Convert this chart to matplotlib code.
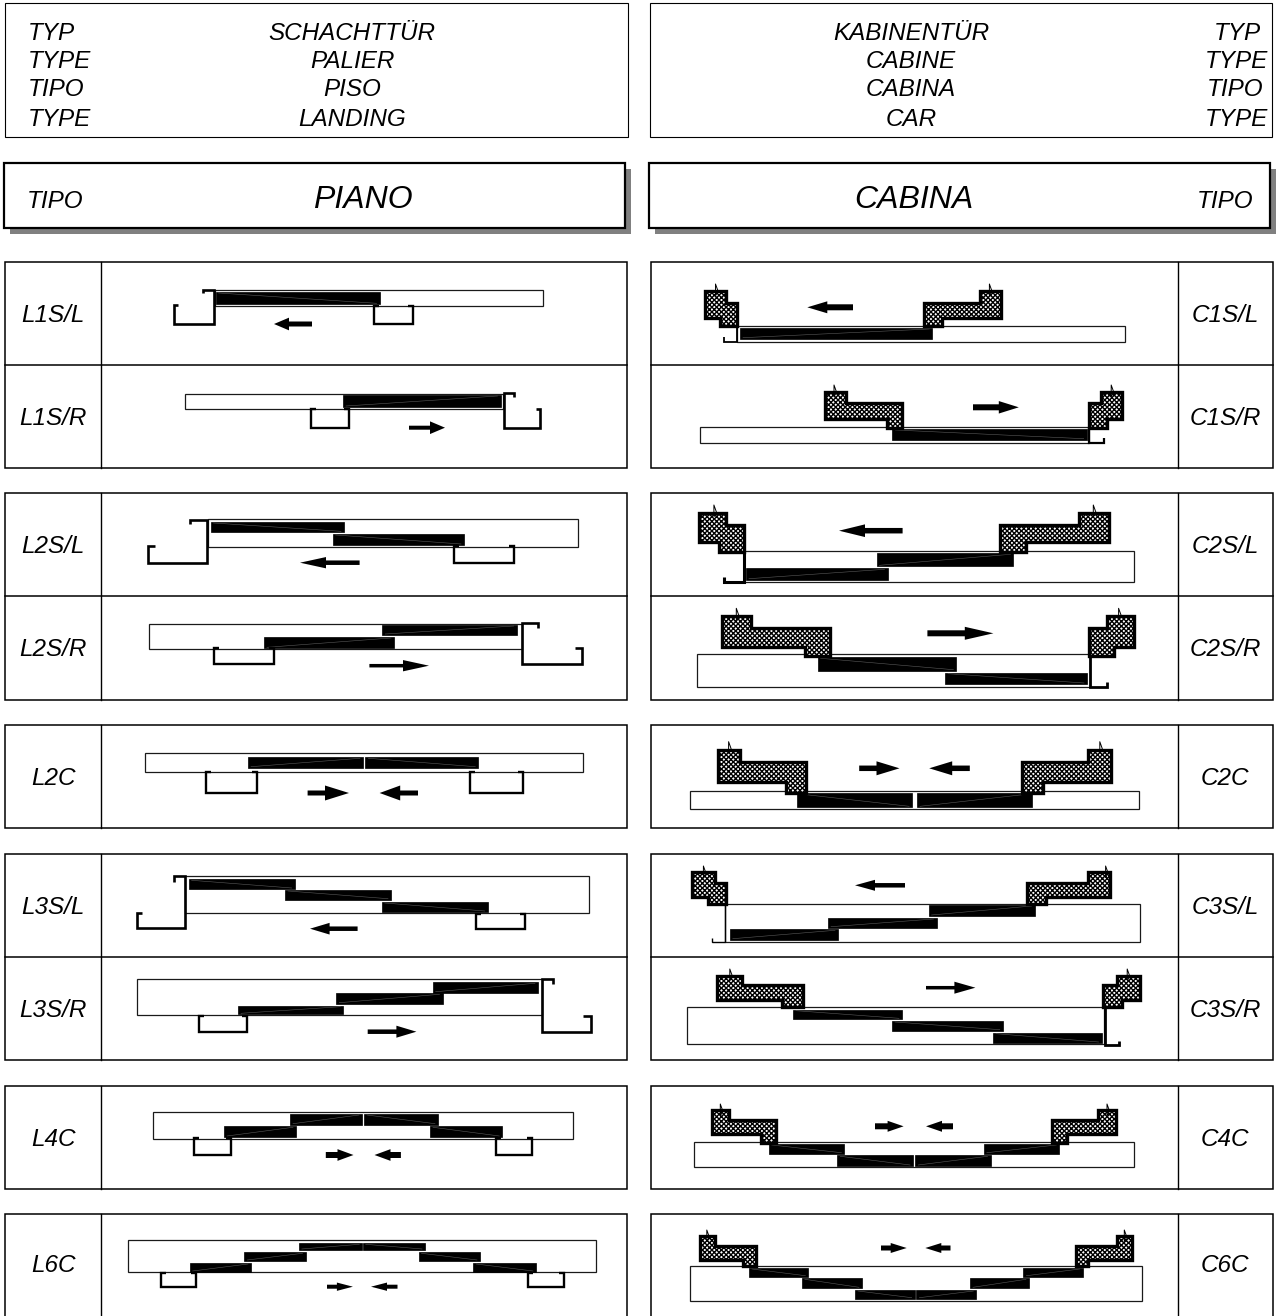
import matplotlib
matplotlib.use("Agg")
import matplotlib.pyplot as plt
from matplotlib.patches import Rectangle, Polygon

plt.rcParams['font.family'] = ['Liberation Sans', 'DejaVu Sans']
plt.rcParams['hatch.linewidth'] = 1.0

# ---------- header text ----------
HEAD_LEFT_TYPES = ["TYP", "TYPE", "TIPO", "TYPE"]
HEAD_LEFT_NAMES = ["SCHACHTTÜR", "PALIER", "PISO", "LANDING"]
HEAD_RIGHT_NAMES = ["KABINENTÜR", "CABINE", "CABINA", "CAR"]
HEAD_RIGHT_TYPES = ["TYP", "TYPE", "TIPO", "TYPE"]
HEAD_RIGHT_EDGE = [1261, 1268, 1263, 1268]
HEAD_Y = [34, 62, 90, 119]

# ---------- table rows ----------
ROW_GROUPS = [(262, 365, 468), (493, 596, 700), (725, 828), (854, 957, 1060), (1086, 1189), (1214, 1318)]
L_LABELS = ["L1S/L", "L1S/R", "L2S/L", "L2S/R", "L2C", "L3S/L", "L3S/R", "L4C", "L6C"]
C_LABELS = ["C1S/L", "C1S/R", "C2S/L", "C2S/R", "C2C", "C3S/L", "C3S/R", "C4C", "C6C"]

# ---------- landing side: door outlines (x0, x1, y0, y1) ----------
L_OUTLINES = [
    (215, 543, 289.5, 306), (184.5, 503, 394.3, 409), (208, 578, 519.3, 547.3),
    (149.4, 522, 624.3, 649), (145, 583.4, 753.3, 771.7), (184.5, 589, 876, 913.3),
    (136.5, 541.5, 979, 1015.3), (153.4, 572.6, 1111.7, 1139), (128.4, 595.6, 1240.3, 1272.3),
]
# panels (x0, x1, y0, y1, slope of the thin light streak: +1 rising, -1 falling)
L_PANELS = [
    (215.5, 379.5, 292, 304.3, -1), (343, 500.5, 395, 407, 1),
    (210.5, 344, 522, 532.3, -1), (332.6, 464, 534, 545, -1),
    (382.3, 516.8, 625, 635, 1), (264, 394, 637, 648.3, 1),
    (248, 363, 757.3, 767.7, 1), (365.4, 478.3, 757.3, 767.7, -1),
    (188.6, 294.7, 879.3, 889, -1), (285, 391, 890, 899.7, -1), (381.6, 487.8, 902, 912, -1),
    (432.7, 538, 982.3, 992.7, 1), (336.3, 442.5, 993.3, 1003.7, 1), (238, 343.4, 1005.7, 1014.3, 1),
    (290, 362, 1114, 1124.7, 1), (364, 438, 1114, 1124.7, -1),
    (224, 296, 1126.3, 1137, 1), (430, 502.3, 1126.3, 1137, -1),
    (298.8, 362.3, 1243.3, 1250, 1), (362.7, 425, 1243.3, 1250, -1),
    (244.4, 305.5, 1252.3, 1261, 1), (418.5, 480, 1252.3, 1261, -1),
    (189.6, 251, 1263, 1272, 1), (473.2, 536, 1263, 1272, -1),
]
# wall sections as polylines (x list, y list)
L_JAMB_X = [
    [178, 174, 174, 214, 214, 203, 203], [513.5, 513.5, 504, 504, 540, 540, 536],
    [155, 147.5, 147.5, 207, 207, 190, 190], [538, 538, 522, 522, 581.7, 581.7, 575],
    [142, 136.5, 136.5, 184.5, 184.5, 173.7, 173.7], [553, 553, 541.5, 541.5, 591, 591, 582.7],
]
L_JAMB_Y = [
    [305, 305, 324, 324, 289.5, 289.5, 293], [397, 393, 393, 427.7, 427.7, 408.5, 408.5],
    [546, 546, 562.5, 562.5, 519.5, 519.5, 524], [627.7, 622.7, 622.7, 664.3, 664.3, 647.7, 647.7],
    [913.3, 913.3, 928.3, 928.3, 876, 876, 881.7], [984.3, 979.3, 979.3, 1031.7, 1031.7, 1015.7, 1015.7],
]
# plain channels (x0, x1, y0, y1)
L_CHANNELS = [
    (374, 412.5, 306, 324), (310.5, 349, 408.5, 427.7), (454, 514, 546, 562.5),
    (214, 274.4, 648, 664.3), (205.5, 257, 772, 793.3), (470, 523, 772, 793.3),
    (476, 525, 914, 928.7), (198.7, 246.7, 1016, 1031.7), (194, 230.8, 1138, 1155.3),
    (495.5, 532, 1138, 1155.3), (160.9, 196.3, 1273, 1287), (527.7, 563.5, 1273, 1287),
]
# arrows (tail x, tip x, y, head length, head height, shaft height)
L_ARROWS = [
    (312, 274, 324, 15, 12.7, 5), (409, 445, 427.7, 15, 12.7, 4),
    (359.6, 300, 562.7, 26, 11.3, 4.5), (369.4, 429, 665.7, 26, 11.3, 3.5),
    (307.6, 349, 793, 24, 15, 5), (418, 379.6, 793, 20.6, 15, 5),
    (357.6, 310, 928.7, 19.6, 11.7, 4.5), (367.7, 416.4, 1031.7, 20, 12, 4.5),
    (325.8, 353.5, 1155, 16, 11.7, 6), (400.9, 374.5, 1155, 16, 11.7, 6),
    (327, 352.9, 1286.7, 16, 8.3, 4), (397.5, 371, 1286.7, 16, 8.3, 4),
]

# ---------- car side ----------
C_OUTLINES = [
    (737, 1124.7, 325.7, 342), (700.4, 1089.2, 426.7, 443.3), (743.7, 1134.3, 550.7, 582),
    (696.7, 1090, 654.3, 686.7), (689.8, 1139, 790.7, 809.3), (725.4, 1140, 904.3, 942),
    (687.2, 1104, 1007.3, 1043.7), (694, 1134, 1141.7, 1167), (689.9, 1142, 1265.7, 1300.7),
]
C_PANELS = [
    (740, 932.4, 328, 338.7, 1), (892.4, 1086.7, 429, 439.7, -1),
    (746, 887.5, 568.3, 579.7, 1), (876.5, 1013.4, 553.3, 566.3, 1),
    (817.6, 956.4, 657.3, 670.7, -1), (945, 1087, 672.7, 684, -1),
    (797, 912.2, 793, 807.3, -1), (917, 1032, 793, 807.3, 1),
    (729.8, 838, 929.3, 939.7, 1), (828, 936.5, 918, 927.7, 1), (928.5, 1034.8, 905, 916, 1),
    (793, 902, 1009.7, 1019.3, -1), (892, 1002.8, 1021, 1030.7, -1), (993, 1101.6, 1032.7, 1043, -1),
    (768.7, 844.4, 1144, 1153.7, -1), (983.8, 1059.4, 1144, 1153.7, 1),
    (837.3, 913.1, 1155.3, 1166, -1), (915.2, 990.5, 1155.3, 1166, 1),
    (749, 808.4, 1268, 1276.7, -1), (1023.4, 1082.8, 1268, 1276.7, 1),
    (801.8, 862, 1278.3, 1288.3, -1), (970, 1029, 1278.3, 1288.3, 1),
    (855, 914.7, 1290, 1298.7, -1), (916.4, 976.4, 1290, 1298.7, 1),
]
# car-door header blocks: x breaks and y breaks of each stepped section
C_BLOCK_X = [
    [704.5, 725.7, 725.7, 736.5, 736.5, 719.6, 719.6, 704.5],
    [924, 979.8, 979.8, 1000.6, 1000.6, 942.4, 942.4, 924],
    [824.6, 845.6, 845.6, 902.2, 902.2, 886.5, 886.5, 824.6],
    [1089, 1101.4, 1101.4, 1122, 1122, 1107, 1107, 1089],
    [699.2, 726, 726, 743.5, 743.5, 718.8, 718.8, 699.2],
    [1000.4, 1078.6, 1078.6, 1109, 1109, 1025.5, 1025.5, 1000.4],
    [722, 751, 751, 829.6, 829.6, 804.5, 804.5, 722],
    [1089.4, 1106.8, 1106.8, 1134, 1134, 1113.7, 1113.7, 1089.4],
    [717.6, 740.2, 740.2, 806.4, 806.4, 785.5, 785.5, 717.6],
    [1022, 1088.4, 1088.4, 1111, 1111, 1042.5, 1042.5, 1022],
    [691.6, 714.6, 714.6, 725.5, 725.5, 707.8, 707.8, 691.6],
    [1026.8, 1087.8, 1087.8, 1110.2, 1110.2, 1045.6, 1045.6, 1026.8],
    [716.6, 742, 742, 802.6, 802.6, 782, 782, 716.6],
    [1103.4, 1117.2, 1117.2, 1139.8, 1139.8, 1122, 1122, 1103.4],
    [711.9, 729.4, 729.4, 775.6, 775.6, 761, 761, 711.9],
    [1051.5, 1098, 1098, 1116.2, 1116.2, 1067, 1067, 1051.5],
    [700, 714.6, 714.6, 755.6, 755.6, 743.1, 743.1, 700],
    [1076, 1117.2, 1117.2, 1131.7, 1131.7, 1088.2, 1088.2, 1076],
]
C_BLOCK_Y = [
    [291, 291, 302.7, 302.7, 326, 326, 318.3, 318.3],
    [302.7, 302.7, 291, 291, 318.3, 318.3, 326, 326],
    [392.3, 392.3, 402.7, 402.7, 428.3, 428.3, 419.3, 419.3],
    [402.7, 402.7, 392.3, 392.3, 419.3, 419.3, 428.3, 428.3],
    [513, 513, 525, 525, 552, 552, 541.7, 541.7],
    [525, 525, 513, 513, 541.7, 541.7, 552, 552],
    [616.3, 616.3, 628.3, 628.3, 656, 656, 647, 647],
    [628.3, 628.3, 616.3, 616.3, 647, 647, 656, 656],
    [750.3, 750.3, 761.7, 761.7, 792.7, 792.7, 782.3, 782.3],
    [761.7, 761.7, 750.3, 750.3, 782.3, 782.3, 792.7, 792.7],
    [871.7, 871.7, 882.7, 882.7, 904.3, 904.3, 897.3, 897.3],
    [882.7, 882.7, 871.7, 871.7, 897.3, 897.3, 904.3, 904.3],
    [976.3, 976.3, 985, 985, 1007, 1007, 1000.3, 1000.3],
    [985, 985, 976.3, 976.3, 1000.3, 1000.3, 1007, 1007],
    [1110.3, 1110.3, 1120.3, 1120.3, 1143.3, 1143.3, 1134.3, 1134.3],
    [1120.3, 1120.3, 1110.3, 1110.3, 1134.3, 1134.3, 1143.3, 1143.3],
    [1235.7, 1235.7, 1246.3, 1246.3, 1266, 1266, 1259.7, 1259.7],
    [1246.3, 1246.3, 1235.7, 1235.7, 1259.7, 1259.7, 1266, 1266],
]
# seal spikes on top of the blocks (x, top y)
C_SPIKES = [
    (715.5, 284), (989.4, 284), (834, 385), (1111.2, 385), (713.9, 505), (1093.3, 505),
    (736.3, 608.3), (1118.6, 608.3), (728.6, 741.7), (1099.8, 741.7), (703.4, 866), (1105.6, 866),
    (729.8, 969), (1127.2, 969), (720.3, 1104), (1107, 1104), (706.8, 1230), (1124.3, 1230),
]
# small angle under the car door post
C_ANGLE_X = [
    [737, 737, 724, 724], [1089.2, 1089.2, 1103.5, 1103.5], [743.7, 743.7, 723.7, 723.7],
    [1090, 1090, 1107, 1107], [725.4, 725.4, 711.9, 711.9], [1104.5, 1104.5, 1119.4, 1119.4],
]
C_ANGLE_Y = [
    [326, 342, 342, 337], [428, 443.3, 443.3, 438], [552, 582, 582, 577],
    [656, 686.7, 686.7, 682], [904, 942, 942, 938], [1007, 1045, 1045, 1041],
]
C_ANGLE_LW = [1.3, 1.6, 2.2, 2.0, 1.0, 2.0]
C_ARROWS = [
    (853, 807.3, 307.3, 20, 12, 6), (973, 1018.8, 407.3, 20, 12.5, 6),
    (902.6, 839, 530.7, 26, 12.7, 5.5), (927.4, 993.4, 633.3, 28.6, 13, 6),
    (859.2, 899.5, 768.3, 23, 14, 5.5), (969.8, 929.2, 768.3, 23, 14, 5.5),
    (905, 855, 885.3, 20, 11, 4.5), (926, 975.4, 987.7, 21, 12, 3.5),
    (875, 903.6, 1126.3, 16, 11, 6), (953, 926, 1126.3, 16, 11, 6),
    (881, 906.7, 1248, 16, 10, 5), (950.5, 925.3, 1248, 16, 10, 5),
]

DARK = "#000000"
SOFT = "#1a1a1a"

fig = plt.figure(figsize=(12.78, 13.16), dpi=100)
ax = fig.add_axes([0, 0, 1, 1])
ax.set_xlim(0, 1278)
ax.set_ylim(1316, 0)
ax.axis("off")


def box(x0, x1, y0, y1, lw=1.0, ec=DARK, fc="white", z=1):
    ax.add_patch(Rectangle((x0, y0), x1 - x0, y1 - y0, fc=fc, ec=ec, lw=lw, zorder=z))


def draw_arrows(arrows):
    for tail, tip, y, hl, hh, sh in arrows:
        d = 1 if tip > tail else -1
        neck = tip - d * hl
        ax.add_patch(Polygon([(tail, y - sh / 2), (neck, y - sh / 2), (neck, y - hh / 2), (tip, y),
                              (neck, y + hh / 2), (neck, y + sh / 2), (tail, y + sh / 2)],
                             closed=True, fc=DARK, ec="none", zorder=6))


def draw_doors(outlines, panels):
    for x0, x1, y0, y1 in outlines:
        box(x0, x1, y0, y1, lw=0.9, ec=SOFT, z=2)
    for x0, x1, y0, y1, s in panels:
        box(x0, x1, y0, y1, lw=0.5, ec=DARK, fc=DARK, z=3)
        ya, yb = (y1 - 1, y0 + 1) if s > 0 else (y0 + 1, y1 - 1)
        ax.plot([x0 + 3, x1 - 3], [ya, yb], color="#5a5a5a", lw=0.4, zorder=4)


# header boxes
box(5, 628, 3, 137, lw=0.8)
box(650, 1272, 3, 137, lw=0.8)
for y, t, n in zip(HEAD_Y, HEAD_LEFT_TYPES, HEAD_LEFT_NAMES):
    ax.text(28, y, t, fontsize=17.5, style="italic", ha="left", va="center")
    ax.text(352, y, n, fontsize=17.5, style="italic", ha="center", va="center")
for y, n, t, e in zip(HEAD_Y, HEAD_RIGHT_NAMES, HEAD_RIGHT_TYPES, HEAD_RIGHT_EDGE):
    ax.text(911, y, n, fontsize=17.5, style="italic", ha="center", va="center")
    ax.text(e, y, t, fontsize=17.5, style="italic", ha="right", va="center")

# title boxes with offset shadow
for x0, x1 in [(4, 625), (649, 1270)]:
    box(x0 + 6, x1 + 6, 169, 234, lw=0, ec="none", fc="#808080", z=1)
    box(x0, x1, 163, 228, lw=1.6, z=2)
ax.text(27, 202, "TIPO", fontsize=17.5, style="italic", ha="left", va="center", zorder=5)
ax.text(363, 200, "PIANO", fontsize=23, style="italic", ha="center", va="center", zorder=5)
ax.text(914, 200, "CABINA", fontsize=23, style="italic", ha="center", va="center", zorder=5)
ax.text(1225, 202, "TIPO", fontsize=17.5, style="italic", ha="center", va="center", zorder=5)

# table frames and labels
row_spans = []
for g in ROW_GROUPS:
    for a, b in zip(g[:-1], g[1:]):
        row_spans.append((a, b))
    for fx0, fx1, div in [(5, 627, 100.5), (651, 1273, 1178)]:
        box(fx0, fx1, g[0], g[-1], lw=1.1, z=1)
        ax.plot([div, div], [g[0], g[-1]], color=DARK, lw=1.0, zorder=2)
        for m in g[1:-1]:
            ax.plot([fx0, fx1], [m, m], color=DARK, lw=1.1, zorder=2)

for (a, b), ll, cl in zip(row_spans, L_LABELS, C_LABELS):
    yc = min((a + b) / 2, 1264) + 2
    ax.text(53, yc, ll, fontsize=17.5, style="italic", ha="center", va="center", zorder=5)
    ax.text(1225, yc, cl, fontsize=17.5, style="italic", ha="center", va="center", zorder=5)

# landing doors
draw_doors(L_OUTLINES, L_PANELS)
for xs, ys in zip(L_JAMB_X, L_JAMB_Y):
    ax.plot(xs, ys, color=DARK, lw=1.9, solid_joinstyle="miter", solid_capstyle="butt", zorder=5)
for x0, x1, y0, y1 in L_CHANNELS:
    ax.plot([x0 + 5, x0, x0, x1, x1, x1 - 5], [y0, y0, y1, y1, y0, y0], color=DARK, lw=1.7,
            solid_joinstyle="miter", solid_capstyle="butt", zorder=5)
draw_arrows(L_ARROWS)

# car doors
draw_doors(C_OUTLINES, C_PANELS)
for xs, ys in zip(C_BLOCK_X, C_BLOCK_Y):
    ax.add_patch(Polygon(list(zip(xs, ys)), closed=True, fc="white", ec=DARK, lw=2.4,
                         hatch="xxxxxxx", joinstyle="miter", zorder=5))
for sx, sy in C_SPIKES:
    ax.plot([sx, sx, sx + 2.5, sx + 0.5], [sy + 11, sy, sy + 7, sy + 11], color=DARK, lw=0.7, zorder=6)
for xs, ys, lw in zip(C_ANGLE_X, C_ANGLE_Y, C_ANGLE_LW):
    ax.plot(xs, ys, color=DARK, lw=lw, solid_joinstyle="miter", solid_capstyle="butt", zorder=5)
draw_arrows(C_ARROWS)

fig.savefig("out.png", dpi=100, facecolor="white")
